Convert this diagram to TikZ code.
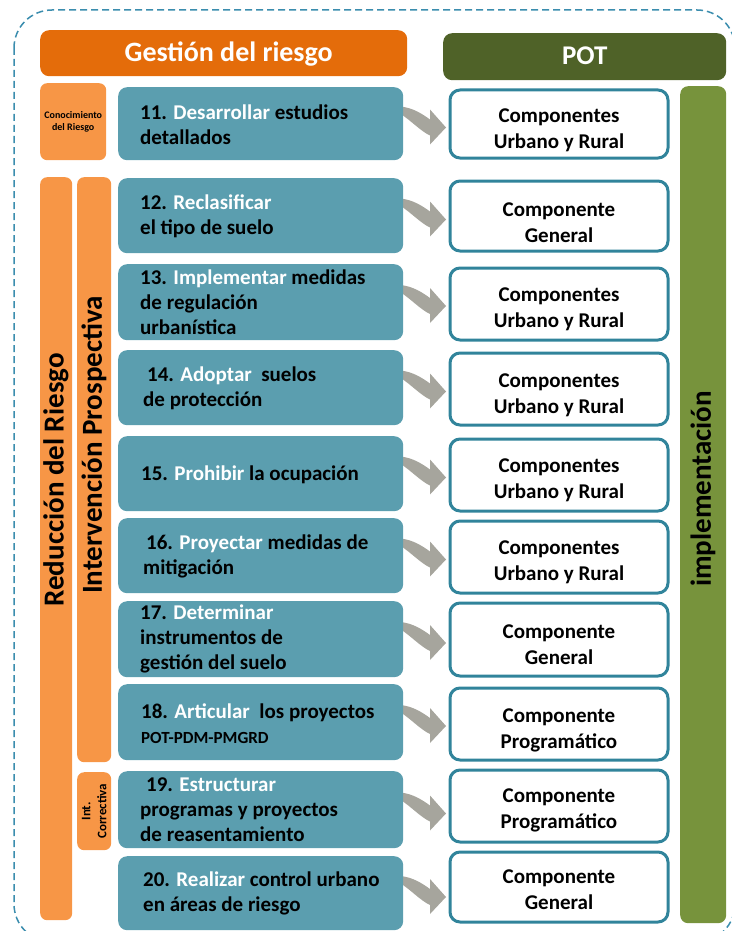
\documentclass[tikz,border=0pt]{standalone}
\usepackage{fontspec}
\setmainfont{Carlito}
\usetikzlibrary{calc}
\definecolor{orangeD}{HTML}{E46C0A}
\definecolor{orangeL}{HTML}{F79646}
\definecolor{tealF}{HTML}{5B9EAF}
\definecolor{tealB}{HTML}{31849B}
\definecolor{potG}{HTML}{4F6228}
\definecolor{implG}{HTML}{77933C}
\definecolor{arrG}{HTML}{A6A59D}
\definecolor{dashB}{HTML}{3B8DAE}
\newcommand{\wh}[1]{\textcolor{white}{#1}}
\begin{document}
\begin{tikzpicture}[x=1pt,y=-1pt,
  base/.style={rounded corners=9pt, inner sep=0pt, anchor=north west},
  hdr/.style={base, text=white, font=\bfseries\fontsize{28}{32}\selectfont},
  stripe/.style={base, fill=orangeL, rounded corners=7pt},
  tealbox/.style={base, fill=tealF, minimum width=285pt},
  tealtext/.style={anchor=west, inner sep=0pt, align=left, font=\bfseries\fontsize{21}{25}\selectfont},
  compbox/.style={base, draw=tealB, line width=3pt, fill=white, minimum width=218pt, rounded corners=10pt},
  comptext/.style={align=center, font=\bfseries\fontsize{21}{26}\selectfont},
  vlabel/.style={rotate=90, font=\bfseries\fontsize{29}{32}\selectfont},
  garrow/.style={fill=arrG}
]
\useasboundingbox (0,0) rectangle (731,931);
\draw[dashB, line width=1.5pt, dash pattern=on 7pt off 4pt, rounded corners=38pt] (14,10) rectangle (735,942);

% headers
\node[base, fill=orangeD, minimum width=367pt, minimum height=46pt] (hg) at (40,30) {};
\node[text=white, font=\bfseries\fontsize{28}{32}\selectfont] (hgT) at ($(hg.center)+(5,1)$) {Gestión del riesgo};
\node[base, fill=potG, minimum width=283pt, minimum height=47pt] (hp) at (443,33) {};
\node[text=white, font=\bfseries\fontsize{27}{30}\selectfont] (hpT) at ($(hp.center)+(0,-1)$) {POT};

% left stripes
\node[stripe, minimum width=66pt, minimum height=77pt] (con) at (40,83) {};
\node[align=center, font=\bfseries\fontsize{10}{12}\selectfont] (conT) at (con.center) {Conocimiento\\del Riesgo};
\node[stripe, minimum width=32pt, minimum height=743pt] (red) at (40,177) {};
\node[vlabel] (redT) at (56,480) {Reducción del Riesgo};
\node[stripe, minimum width=34pt, minimum height=585pt] (ip) at (77,177) {};
\node[vlabel] (ipT) at (94,445) {Intervención Prospectiva};
\node[stripe, minimum width=34pt, minimum height=78pt] (ic) at (77,772) {};
\node[rotate=90, align=center, font=\bfseries\fontsize{13}{16}\selectfont] (icT) at (ic.center) {Int.\\Correctiva};

% implementation bar
\node[base, fill=implG, rounded corners=8pt, minimum width=46pt, minimum height=837pt] (impl) at (680,86) {};
\node[vlabel] (implT) at (703,489) {implementación};

% curved arrows (behind boxes)
\foreach \yc in {123.5,215.5,302,387.5,473.5,555.5,639,722,809.5,893}{
  \fill[garrow, shift={(403,\yc)}] (-3,-17) .. controls (10,-16) and (20,-9) .. (27,-4)
     -- (27,-14) -- (43,4) -- (27,21) -- (27,12) .. controls (18,8) and (8,-3) .. (-3,-10) -- cycle;
}

% teal boxes
\node[tealbox, minimum height=73pt] (t11) at (118,87) {};
\node[tealbox, minimum height=75pt] (t12) at (118,178) {};
\node[tealbox, minimum height=76pt] (t13) at (118,264) {};
\node[tealbox, minimum height=75pt] (t14) at (118,350) {};
\node[tealbox, minimum height=75pt] (t15) at (118,436) {};
\node[tealbox, minimum height=75pt] (t16) at (118,518) {};
\node[tealbox, minimum height=76pt] (t17) at (118,601) {};
\node[tealbox, minimum height=76pt] (t18) at (118,684) {};
\node[tealbox, minimum height=77pt] (t19) at (118,771) {};
\node[tealbox, minimum height=74pt] (t20) at (118,856) {};

\node[tealtext] (x11) at ($(t11.west)+(22,1)$) {11. \wh{Desarrollar} estudios\\detallados};
\node[tealtext] (x12) at ($(t12.west)+(22,1)$) {12. \wh{Reclasificar}\\el tipo de suelo};
\node[tealtext] (x13) at ($(t13.west)+(22,0)$) {13. \wh{Implementar} medidas\\de regulación\\urbanística};
\node[tealtext] (x14) at ($(t14.west)+(25,1)$) {\hspace*{4pt}14. \wh{Adoptar}\ \ suelos\\de protección};
\node[tealtext] (x15) at ($(t15.west)+(23,1)$) {15. \wh{Prohibir} la ocupación};
\node[tealtext] (x16) at ($(t16.west)+(25,1)$) {\hspace*{3pt}16. \wh{Proyectar} medidas de\\mitigación};
\node[tealtext] (x17) at ($(t17.west)+(22,0)$) {17. \wh{Determinar}\\instrumentos de\\gestión del suelo};
\node[tealtext] (x18) at ($(t18.west)+(23,1)$) {18. \wh{Articular}\ \ los proyectos\\{\fontsize{17}{22}\selectfont POT-PDM-PMGRD}};
\node[tealtext] (x19) at ($(t19.west)+(22,0)$) {\hspace*{6pt}19. \wh{Estructurar}\\programas y proyectos\\de reasentamiento};
\node[tealtext] (x20) at ($(t20.west)+(25,0)$) {20. \wh{Realizar} control urbano\\en áreas de riesgo};

% component boxes
\node[compbox, minimum height=68pt] (r1) at (448.5,88.5) {};
\node[compbox, minimum height=70pt] (r2) at (448.5,179.5) {};
\node[compbox, minimum height=72pt] (r3) at (448.5,266.5) {};
\node[compbox, minimum height=72pt] (r4) at (448.5,351.5) {};
\node[compbox, minimum height=72pt] (r5) at (448.5,437.5) {};
\node[compbox, minimum height=72pt] (r6) at (448.5,519.5) {};
\node[compbox, minimum height=73pt] (r7) at (448.5,601.5) {};
\node[compbox, minimum height=72pt] (r8) at (448.5,686.5) {};
\node[compbox, minimum height=72pt] (r9) at (448.5,768.5) {};
\node[compbox, minimum height=70pt] (r10) at (448.5,850.5) {};

\node[comptext] (c1) at ($(r1.center)+(0,6)$) {Componentes\\Urbano y Rural};
\node[comptext] (c2) at ($(r2.center)+(0,7)$) {Componente\\General};
\node[comptext] (c3) at ($(r3.center)+(0,5)$) {Componentes\\Urbano y Rural};
\node[comptext] (c4) at ($(r4.center)+(0,6)$) {Componentes\\Urbano y Rural};
\node[comptext] (c5) at ($(r5.center)+(0,5)$) {Componentes\\Urbano y Rural};
\node[comptext] (c6) at ($(r6.center)+(0,5)$) {Componentes\\Urbano y Rural};
\node[comptext] (c7) at ($(r7.center)+(0,5)$) {Componente\\General};
\node[comptext] (c8) at ($(r8.center)+(0,6)$) {Componente\\Programático};
\node[comptext] (c9) at ($(r9.center)+(0,4)$) {Componente\\Programático};
\node[comptext] (c10) at ($(r10.center)+(0,3)$) {Componente\\General};
\end{tikzpicture}
\end{document}
